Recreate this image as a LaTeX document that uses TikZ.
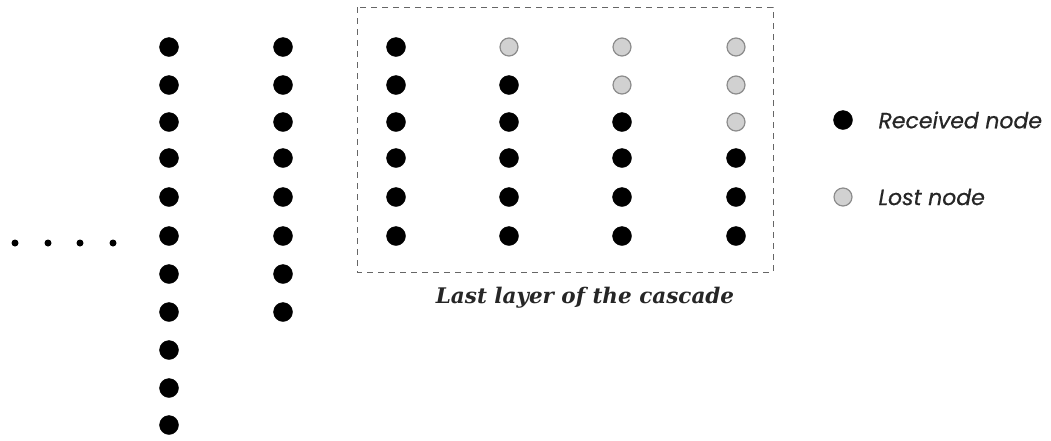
\documentclass[tikz,border=0pt]{standalone}
\usepackage{fontspec}
\newfontfamily\legendfont[FakeBold=0.6]{Poppins}
\newfontfamily\captionfont{DejaVu Serif}
\begin{document}
\begin{tikzpicture}[x=1pt,y=-1pt,
  recv/.style={circle,fill=black,draw=black,minimum size=19pt,inner sep=0pt},
  lost/.style={circle,fill=black!18,draw=black!45,line width=1.2pt,minimum size=18pt,inner sep=0pt},
  tiny/.style={circle,fill=black,minimum size=7pt,inner sep=0pt},
  legtext/.style={anchor=west,text=black!85,font=\legendfont\itshape\fontsize{22}{25}\selectfont},
  captext/.style={text=black!85,font=\captionfont\bfseries\itshape\fontsize{21.5}{24}\selectfont}]
\useasboundingbox (0,0) rectangle (1051,440);
% dashed box
\draw[line width=1pt,black!60,dash pattern=on 6pt off 5pt] (357,7) rectangle (773,272);
% ellipsis dots
\foreach \x [count=\i] in {15,48,80,113} \node[tiny] (e\i) at (\x,243) {};
% column 1
\foreach \y [count=\i] in {47,85,122,158,197,236,274,312,350,388,425} \node[recv] (a\i) at (169,\y) {};
% column 2
\foreach \y [count=\i] in {47,85,122,158,197,236,274,312} \node[recv] (b\i) at (283,\y) {};
% cascade columns
\foreach \y [count=\i] in {47,85,122,158,197,236} \node[recv] (c\i) at (396,\y) {};
\node[lost] (d1) at (509,47) {};
\foreach \y [count=\i from 2] in {85,122,158,197,236} \node[recv] (d\i) at (509,\y) {};
\node[lost] (f1) at (622,47) {};
\node[lost] (f2) at (622,85) {};
\foreach \y [count=\i from 3] in {122,158,197,236} \node[recv] (f\i) at (622,\y) {};
\node[lost] (g1) at (736,47) {};
\node[lost] (g2) at (736,85) {};
\node[lost] (g3) at (736,122) {};
\foreach \y [count=\i from 4] in {158,197,236} \node[recv] (g\i) at (736,\y) {};
% caption
\node[captext] (caption) at (585,298) {Last layer of the cascade};
% legend
\node[recv] (lr) at (843,120) {};
\node[legtext] (lrt) at (875,120) {Received node};
\node[lost] (ll) at (843,197) {};
\node[legtext] (llt) at (875,197) {Lost node};
\end{tikzpicture}
\end{document}
